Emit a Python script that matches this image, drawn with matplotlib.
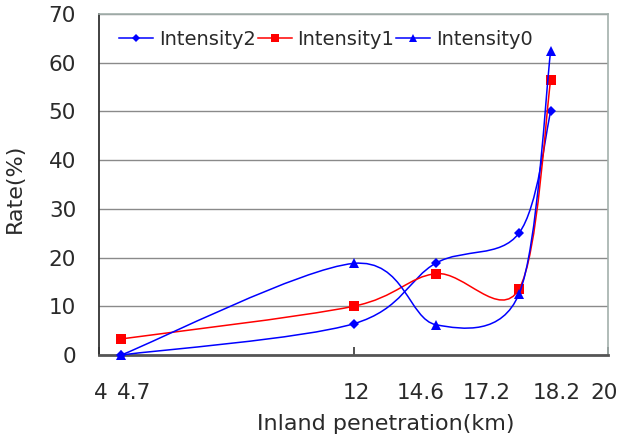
import matplotlib
matplotlib.use('Agg')
import matplotlib.pyplot as plt
import numpy as np
from matplotlib.path import Path
from matplotlib.patches import PathPatch
from matplotlib.lines import Line2D

# ---- data ----
penetration_km = [4.7, 12, 14.6, 17.2, 18.2]
intensity2 = [0, 6.4, 18.9, 25, 50]
intensity1 = [3.3, 10, 16.7, 13.5, 56.5]
intensity0 = [0, 18.8, 6.2, 12.5, 62.5]
series_names = ['Intensity2', 'Intensity1', 'Intensity0']
x_tick_labels = ['4', '4.7', '12', '14.6', '17.2', '18.2', '20']
y_ticks = [0, 10, 20, 30, 40, 50, 60, 70]

# ---- layout (where the x labels sit in the reference) ----
x_label_pos = [4.06, 5.1, 12.1, 14.1, 16.2, 18.4, 19.88]
major_x_ticks = [4, 12, 20]

W, H = 618, 443
fig = plt.figure(figsize=(W / 100, H / 100), dpi=100)
L, R, T, B = 99, 608, 14, 355
ax = fig.add_axes([L / W, 1 - B / H, (R - L) / W, (B - T) / H])
ax.set_xlim(4, 20)
ax.set_ylim(0, 70)


def smooth_path(ax, xs, ys):
    pts = ax.transData.transform(np.column_stack([xs, ys]))
    n = len(pts)
    verts = [pts[0]]
    codes = [Path.MOVETO]
    for i in range(n - 1):
        p0 = pts[i - 1] if i > 0 else pts[i]
        p1 = pts[i]
        p2 = pts[i + 1]
        p3 = pts[i + 2] if i + 2 < n else pts[i + 1]
        d12 = np.hypot(*(p2 - p1))
        d02 = np.hypot(*(p2 - p0))
        d13 = np.hypot(*(p3 - p1))
        f0 = f1 = 1 / 6
        if d02 > 0 and d02 / 6 > d12 / 2:
            f0 = d12 / (2 * d02)
        if d13 > 0 and d13 / 6 > d12 / 2:
            f1 = d12 / (2 * d13)
        c1 = p1 + f0 * (p2 - p0)
        c2 = p2 - f1 * (p3 - p1)
        verts += [c1, c2, p2]
        codes += [Path.CURVE4] * 3
    verts = ax.transData.inverted().transform(np.array(verts))
    return Path(verts, codes)


series = [intensity2, intensity1, intensity0]
colors = ['#0000FF', '#FF0000', '#0000FF']
markers = ['D', 's', '^']
msizes = [5, 6.5, 7]
handles = []
for i, (ys, c, m, ms, name) in enumerate(zip(series, colors, markers, msizes, series_names)):
    path = smooth_path(ax, penetration_km, ys)
    ax.add_patch(PathPatch(path, fill=False, edgecolor=c, lw=1.1, zorder=3 + i))
    ax.plot(penetration_km, ys, ls='none', marker=m, ms=ms, color=c,
            markeredgewidth=0, zorder=3.5 + i, clip_on=False)
    handles.append(Line2D([], [], color=c, lw=1.1, marker=m, ms=ms * 0.8,
                          markeredgewidth=0, label=name))

# grid
ax.set_yticks(y_ticks)
ax.yaxis.grid(True, color='#8a8a8a', lw=1.0)
ax.set_axisbelow(True)

# spines
ax.spines['left'].set_color('#333333')
ax.spines['left'].set_linewidth(1.3)
ax.spines['bottom'].set_color('#555555')
ax.spines['bottom'].set_linewidth(2.0)
for s in ['top', 'right']:
    ax.spines[s].set_color('#a3b0ac')
    ax.spines[s].set_linewidth(1.2)

# ticks
ax.tick_params(axis='y', length=0, pad=16.5, labelsize=15.5, labelcolor='#2a2a2a')
ax.set_xticks(major_x_ticks)
ax.set_xticklabels([''] * len(major_x_ticks))
ax.tick_params(axis='x', which='major', direction='in', length=6, width=1.2, color='#333333')
ax.set_xticks(x_label_pos, minor=True)
ax.set_xticklabels(x_tick_labels, minor=True)
ax.tick_params(axis='x', which='minor', length=0, pad=20, labelsize=15.5, labelcolor='#2a2a2a')

# axis labels
ax.set_xlabel('Inland penetration(km)', fontsize=16, color='#2a2a2a', va='center')
ax.xaxis.set_label_coords((386 - L) / (R - L), (B - 424) / (B - T))
ax.set_ylabel('Rate(%)', fontsize=16, color='#2a2a2a', va='center')
ax.yaxis.set_label_coords((15 - L) / (R - L), 0.49)

# legend
leg = ax.legend(handles=handles, loc='upper left', ncol=3, frameon=False, fontsize=14,
                handlelength=1.75, handletextpad=0.3, columnspacing=0.1,
                bbox_to_anchor=((119 - L) / (R - L), (B - 30) / (B - T)),
                borderaxespad=0, borderpad=0)
for t in leg.get_texts():
    t.set_color('#2a2a2a')

fig.savefig('out.png', dpi=100)
